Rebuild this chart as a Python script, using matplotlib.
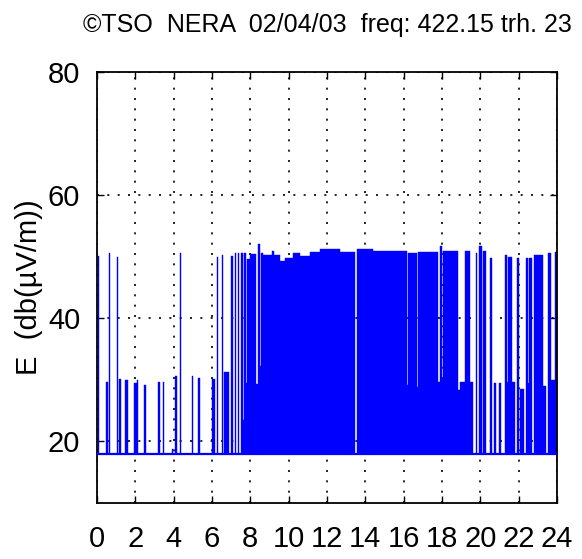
import numpy as np
import matplotlib
matplotlib.use("Agg")
from matplotlib import pyplot as plt

# field strength record for one day: noise floor + detected carriers
BASE = 18.0

# blocks of signal above the floor: start hour, end hour, level in dB(uV/m)
blk_start = [0.03, 0.47, 0.60, 1.02, 1.15, 1.46, 1.56, 1.93, 2.09, 2.47,
             3.20, 3.42, 3.89, 4.07, 4.32, 4.96, 5.28, 6.01, 6.25, 6.51,
             6.61, 7.01, 7.19, 7.36, 7.53, 7.61, 7.67, 7.75,
             7.82, 7.98, 8.32, 8.40, 8.50, 8.58, 8.66, 9.13, 9.23, 9.55,
             9.81, 10.22, 10.59, 11.11, 11.63, 12.68, 13.54, 14.40, 16.17, 16.25,
             16.69, 16.77, 17.81, 17.92, 18.02, 18.07, 18.83, 18.96, 19.22, 19.46,
             19.77, 19.93, 20.14, 20.50, 20.71, 20.97, 21.28, 21.39, 21.44, 21.65,
             21.91, 22.09, 22.38, 22.48, 22.55, 22.80, 23.27, 23.53, 23.68, 23.87]
blk_end = [0.10, 0.57, 0.68, 1.10, 1.23, 1.54, 1.64, 2.06, 2.16, 2.55,
           3.28, 3.50, 3.96, 4.16, 4.40, 5.03, 5.36, 6.13, 6.33, 6.59,
           6.89, 7.08, 7.27, 7.43, 7.61, 7.67, 7.75, 7.82,
           7.98, 8.32, 8.40, 8.50, 8.58, 8.66, 9.13, 9.23, 9.55, 9.81,
           10.22, 10.59, 11.11, 11.63, 12.68, 13.46, 14.40, 16.17, 16.25, 16.69,
           16.77, 17.81, 17.92, 18.02, 18.07, 18.83, 18.96, 19.22, 19.46, 19.64,
           19.85, 20.08, 20.29, 20.62, 20.84, 21.10, 21.39, 21.44, 21.65, 21.80,
           22.01, 22.27, 22.48, 22.55, 22.69, 23.27, 23.40, 23.68, 23.87, 24.00]
blk_db = [50.1, 29.7, 50.6, 50.0, 30.2, 30.0, 30.0, 29.5, 30.0, 29.2,
          29.7, 29.7, 18.8, 30.6, 50.6, 30.6, 30.3, 30.2, 50.0, 50.3,
          31.2, 50.1, 50.6, 50.6, 50.6, 23.5, 50.6, 29.5,
          49.6, 50.5, 29.3, 52.0, 32.2, 50.6, 50.3, 50.9, 50.3, 49.3,
          49.8, 50.6, 50.1, 50.7, 51.2, 50.8, 51.2, 51.0, 29.2, 50.6,
          28.9, 50.7, 29.7, 51.7, 30.3, 51.0, 28.4, 29.7, 51.0, 29.7,
          50.6, 51.7, 51.0, 49.8, 29.5, 29.5, 50.3, 29.7, 50.0, 29.7,
          49.8, 28.5, 49.8, 29.5, 49.8, 50.3, 29.0, 50.6, 30.0, 50.7]

hour_ticks = list(range(0, 25, 2))
db_ticks = [20, 40, 60, 80]

plt.rcParams['font.family'] = ['Liberation Sans', 'DejaVu Sans']

# turn the blocks into one step outline so adjacent blocks have no seams
edges = []
levels = []
t_prev = 0.0
for s, e, v in zip(blk_start, blk_end, blk_db):
    if s > t_prev:
        edges.append(t_prev)
        levels.append(BASE)
    edges.append(s)
    levels.append(v)
    t_prev = e
edges.append(t_prev)
levels.append(BASE)
if t_prev < 24:
    edges.append(24.0)
    levels.append(BASE)

fig = plt.figure(figsize=(5.82, 5.59), dpi=100)
ax = fig.add_axes([0.1667, 0.1002, 0.7904, 0.7710])

ax.fill_between(edges, BASE, levels, step='post', facecolor='#0000ff',
                edgecolor='#0000ff', linewidth=0.3, zorder=2)
ax.plot([0, 24], [BASE, BASE], color='#0000ff', linewidth=1.6, zorder=3)

ax.set_xlim(0, 24)
ax.set_ylim(10, 80)
ax.set_xticks(hour_ticks)
ax.set_yticks(db_ticks)

ax.grid(True, linestyle=(0, (1.2, 5)), color='k', linewidth=1.2)
ax.set_axisbelow(True)
for s in ax.spines.values():
    s.set_linewidth(1.3)

ax.tick_params(direction='in', length=5, width=1, top=True, right=True,
               labelsize=21)
ax.tick_params(axis='x', pad=16)
ax.tick_params(axis='y', pad=12)

ax.set_title("©TSO  NERA  02/04/03  freq: 422.15 trh. 23", fontsize=18, pad=29)
ax.set_ylabel("E  (db(µV/m))", fontsize=21)
ax.yaxis.set_label_coords(-0.118, 0.5)

fig.savefig("out.png", dpi=100, facecolor='white')
